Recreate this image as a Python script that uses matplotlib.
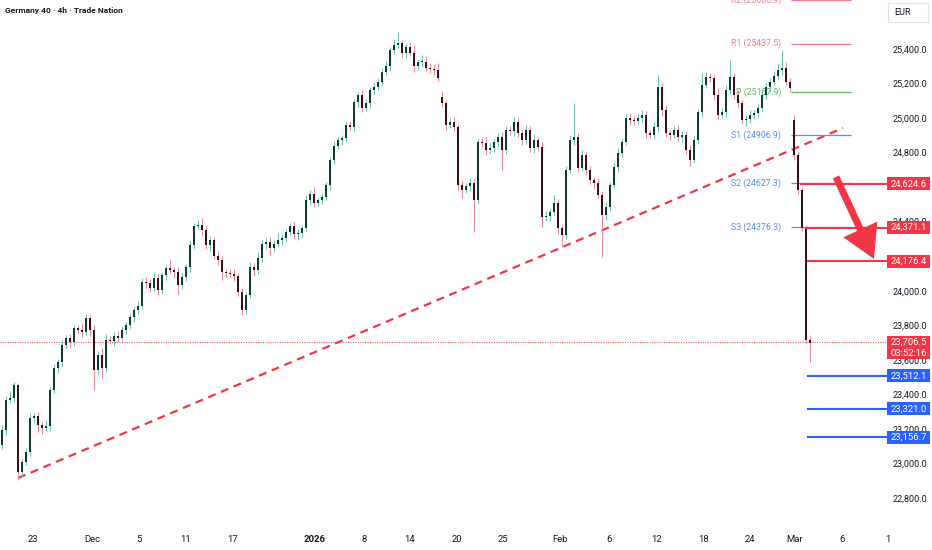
import matplotlib
matplotlib.use("Agg")
import matplotlib.pyplot as plt
from matplotlib.patches import Rectangle, FancyArrowPatch
from matplotlib.transforms import blended_transform_factory
import numpy as np

plt.rcParams['font.family'] = ['Roboto', 'DejaVu Sans']

# 4h closes (one value per candle slot)
closes = [
    23199, 23373, 23385, 23460, 22956, 23014, 23072, 23269, 23280, 23228,
    23211, 23220, 23431, 23558, 23593, 23692, 23732, 23709, 23790, 23778,
    23767, 23848, 23778, 23547, 23634, 23558, 23721, 23715, 23744, 23732,
    23778, 23807, 23854, 23894, 23918, 24056, 24051, 24022, 24080, 24010,
    24097, 24138, 24126, 24114, 24039, 24085, 24143, 24271, 24381, 24387,
    24358, 24271, 24300, 24207, 24184, 24114, 24109, 24103, 24091, 23999,
    23894, 23981, 24143, 24126, 24195, 24277, 24288, 24253, 24277, 24300,
    24311, 24346, 24381, 24334, 24340, 24369, 24531, 24566, 24514, 24531,
    24549, 24618, 24763, 24844, 24879, 24890, 24966, 24954, 25099, 25139,
    25064, 25093, 25168, 25186, 25215, 25273, 25307, 25400, 25429, 25440,
    25383, 25417, 25383, 25307, 25330, 25330, 25296, 25290, 25284, 25238,
    25093, 24966, 24983, 24954, 24618, 24589, 24612, 24630, 24531, 24867,
    24861, 24821, 24830, 24867, 24896, 24821, 24937, 24930, 24983, 24919,
    24879, 24937, 24832, 24879, 24838, 24433, 24440, 24462, 24514, 24369,
    24329, 24705, 24879, 24896, 24717, 24792, 24705, 24647, 24630, 24560,
    24444, 24491, 24618, 24722, 24803, 24867, 25006, 24995, 24990, 25006,
    25024, 24919, 24908, 24954, 25186, 25053, 24919, 24908, 24937, 24896,
    24908, 24821, 24763, 24879, 25041, 25197, 25244, 25238, 25139, 25024,
    25041, 25168, 25244, 25139, 25093, 24995, 25000, 25024, 25035, 25064,
    25139, 25186, 25215, 25249, 25284, 25296, 25215, 25180, 24792, 24589,
    24369, 23721, 23703,
]
# opens after session gaps (otherwise open = previous close)
gap_opens = {0: 23112, 110: 25130, 198: 24995}

wick_up = [
    30, 25, 40, 15, 10, 20, 25, 30, 20, 25,
    15, 35, 20, 25, 15, 30, 20, 25, 20, 15,
    35, 25, 20, 30, 25, 40, 35, 20, 25, 30,
    20, 15, 25, 20, 30, 25, 30, 20, 35, 25,
    20, 15, 45, 20, 30, 25, 20, 25, 15, 30,
    40, 25, 20, 15, 30, 25, 20, 25, 30, 20,
    25, 20, 30, 25, 35, 20, 25, 30, 20, 40,
    25, 20, 15, 30, 25, 20, 30, 25, 40, 20,
    25, 20, 15, 30, 25, 20, 15, 25, 20, 15,
    30, 25, 20, 25, 20, 25, 30, 20, 35, 64,
    20, 25, 30, 45, 20, 40, 35, 30, 25, 40,
    30, 20, 25, 30, 20, 25, 20, 30, 25, 20,
    25, 35, 30, 20, 25, 30, 25, 20, 30, 25,
    20, 30, 25, 35, 20, 30, 25, 20, 45, 25,
    20, 25, 30, 197, 25, 30, 20, 25, 20, 30,
    25, 30, 20, 25, 30, 20, 25, 30, 20, 25,
    30, 25, 20, 30, 70, 25, 30, 20, 25, 30,
    25, 20, 30, 25, 20, 70, 30, 25, 20, 40,
    25, 30, 98, 25, 30, 20, 25, 30, 20, 25,
    30, 20, 25, 30, 40, 104, 35, 20, 30, 25,
    20, 15, 30,
]
wick_dn = [
    25, 30, 20, 15, 46, 30, 20, 25, 30, 40,
    35, 20, 25, 15, 30, 25, 20, 30, 25, 20,
    30, 20, 35, 115, 30, 60, 25, 20, 30, 25,
    20, 25, 20, 30, 25, 20, 30, 25, 20, 30,
    25, 30, 20, 35, 60, 25, 20, 30, 25, 20,
    30, 25, 35, 20, 30, 45, 25, 20, 30, 25,
    30, 25, 20, 35, 25, 20, 30, 40, 25, 20,
    30, 25, 20, 30, 35, 25, 20, 30, 25, 20,
    25, 20, 30, 25, 20, 30, 25, 20, 25, 30,
    25, 20, 30, 25, 20, 25, 20, 30, 25, 20,
    25, 30, 20, 35, 25, 30, 20, 25, 30, 20,
    25, 30, 20, 25, 30, 45, 20, 30, 185, 25,
    20, 30, 25, 20, 30, 116, 25, 20, 30, 25,
    30, 25, 20, 30, 25, 60, 25, 30, 20, 35,
    70, 25, 20, 30, 25, 20, 30, 25, 35, 20,
    243, 30, 25, 20, 30, 25, 20, 30, 25, 20,
    25, 30, 20, 25, 30, 35, 25, 30, 20, 25,
    30, 25, 35, 20, 25, 30, 20, 25, 30, 25,
    20, 30, 25, 20, 30, 25, 35, 20, 25, 30,
    20, 25, 30, 20, 25, 30, 20, 25, 30, 25,
    20, 15, 110,
]

# date axis: label and candle slot it sits on
date_labels = ["23", "Dec", "5", "11", "17", "2026", "8", "14", "20", "25",
               "Feb", "6", "12", "18", "24", "Mar", "6", "1"]
date_slots = [7.75, 22.5, 34.25, 46, 57.75, 78.25, 90.5, 102, 113.75, 125.25,
              139.5, 151.75, 163.75, 175.5, 187, 198.25, 210, 221.5]

# price scale labels visible on the right (the rest sit under the tags)
price_ticks = [22800, 23000, 23200, 23400, 23600, 23800, 24000, 24400,
               24800, 25000, 25200, 25400]

# pivot points (daily)
pivot_names = ["R2", "R1", "P", "S1", "S2", "S3"]
pivot_values = [25686.9, 25437.5, 25157.9, 24906.9, 24627.3, 24376.3]

# drawn levels
red_levels = [24624.6, 24371.1, 24176.4]
red_starts = [199.5, 200.75, 201.25]
blue_levels = [23512.1, 23321.0, 23156.7]
last_price = 23706.5
countdown = "03:52:16"

# trendline anchors (slot, price)
trend_x = [4, 210.25]
trend_y = [22921, 24948]
arrow_from = (208.5, 24665)
arrow_to = (218.0, 24190)

UP_BODY, DN_BODY = "#0f3b31", "#3a1016"
UP_WICK, DN_WICK = "#6ccbb6", "#f28c98"
RED, BLUE, TXT = "#f23645", "#2962ff", "#131722"

fig = plt.figure(figsize=(9.32, 5.5), dpi=100)
ax = fig.add_axes([0, 28 / 550, 888 / 932, 522 / 550])
ax.set_xlim(-0.5, 221.5)
ax.set_ylim(22666.6, 25689.5)
for s in ax.spines.values():
    s.set_visible(False)
ax.set_yticks([])

c = np.array(closes, dtype=float)
o = np.r_[c[0], c[:-1]]
for k, v in gap_opens.items():
    o[k] = v
up = c >= o
hi = np.maximum(o, c) + np.array(wick_up)
lo = np.minimum(o, c) - np.array(wick_dn)
x = np.arange(len(c))

ax.vlines(x[up], lo[up], hi[up], color=UP_WICK, lw=0.8, zorder=3)
ax.vlines(x[~up], lo[~up], hi[~up], color=DN_WICK, lw=0.8, zorder=3)
body_h = np.maximum(np.abs(c - o), 4)
ax.bar(x[up], body_h[up], bottom=np.minimum(o, c)[up], width=0.62,
       color=UP_BODY, lw=0, zorder=4)
ax.bar(x[~up], body_h[~up], bottom=np.minimum(o, c)[~up], width=0.62,
       color=DN_BODY, lw=0, zorder=4)

# trendline
ax.plot(trend_x, trend_y, color=RED, lw=1.6, dashes=(3.6, 2.6), zorder=2)

# current price dotted line
ax.axhline(last_price, color=RED, lw=0.7, linestyle=(0, (1, 1.5)), zorder=1)

# pivots
pcolors = {"R": "#f47b8a", "P": "#5cb85f", "S": "#5b8def"}
for name, val in zip(pivot_names, pivot_values):
    col = pcolors[name[0]]
    ax.hlines(val, 197.25, 212.25, color=col, lw=0.9, zorder=2)
    ax.text(194.75, val, f"{name} ({val})", ha="right", va="center",
            fontsize=6.3, color=col, zorder=1, clip_on=True)

# levels
for val, start in zip(red_levels, red_starts):
    ax.hlines(val, start, 221.5, color=RED, lw=1.5, zorder=5)
for val in blue_levels:
    ax.hlines(val, 201.25, 221.5, color=BLUE, lw=1.5, zorder=5)

# arrow
arr = FancyArrowPatch(arrow_from, arrow_to,
                      arrowstyle="simple,head_length=1.3,head_width=1.5,tail_width=0.28",
                      mutation_scale=18, color=RED, lw=0, shrinkA=0, shrinkB=0,
                      zorder=6)
ax.add_patch(arr)

# price axis
pp = 5.791  # price per pixel
trans = blended_transform_factory(fig.transFigure, ax.transData)
for v in price_ticks:
    ax.text(927 / 932, v, f"{v:,.1f}", transform=trans, ha="right", va="center",
            fontsize=6.5, color=TXT, clip_on=False)


def tag(price, text, color, top=None, h=13):
    y0 = price - h / 2 * pp if top is None else top - h * pp
    ax.add_patch(Rectangle((887 / 932, y0), 43 / 932, h * pp, transform=trans,
                           facecolor=color, edgecolor="none", clip_on=False,
                           zorder=7))
    ax.text(908.5 / 932, price, text, transform=trans, ha="center",
            va="center", fontsize=6.8, color="white", zorder=8, clip_on=False)


for val in red_levels:
    tag(val, f"{val:,.1f}", RED)
for val in blue_levels:
    tag(val, f"{val:,.1f}", BLUE)
tag(last_price, f"{last_price:,.1f}", RED, top=last_price + 6 * pp, h=23)
ax.text(908.5 / 932, last_price - 11 * pp, countdown, transform=trans,
        ha="center", va="center", fontsize=6.8, color="white", zorder=8,
        clip_on=False)

# date axis
ax.set_xticks(date_slots, date_labels)
ax.tick_params(axis="x", length=0, pad=9, labelsize=6.8, colors=TXT)
for lbl in ax.get_xticklabels():
    if lbl.get_text() == "2026":
        lbl.set_fontweight("bold")

# title and currency box
fig.text(5 / 932, 1 - 11 / 550, "Germany 40 · 4h · Trade Nation",
         fontsize=6.0, color=TXT, va="center", fontweight="semibold")
fig.add_artist(Rectangle((888 / 932, 1 - 22 / 550), 40 / 932, 19 / 550,
                         transform=fig.transFigure, facecolor="white",
                         edgecolor="#e0e3eb", lw=0.8))
fig.text(894 / 932, 1 - 12.5 / 550, "EUR", fontsize=6.5, color=TXT,
         va="center")

fig.savefig("out.png", dpi=100, facecolor="white")
